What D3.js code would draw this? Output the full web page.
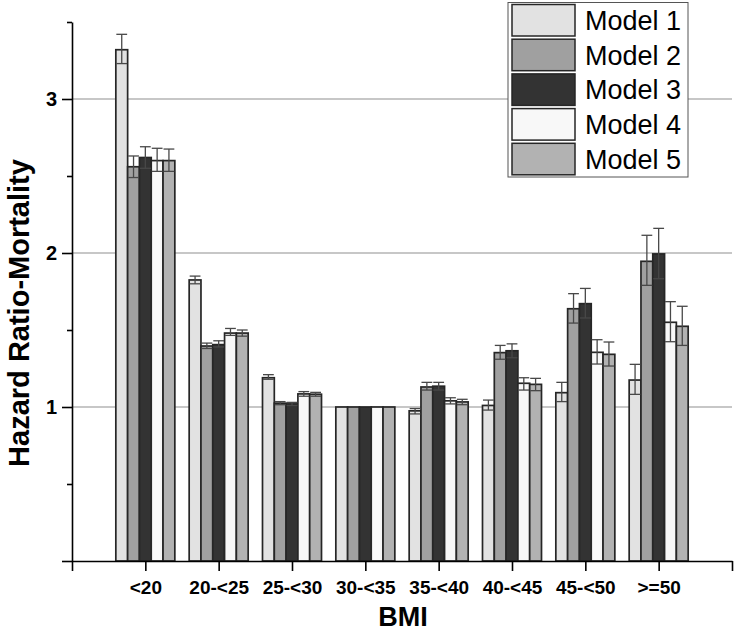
<!DOCTYPE html>
<html><head><meta charset="utf-8">
<script src="https://cdn.jsdelivr.net/npm/d3@7"></script>
<style>body{margin:0;background:#fff}svg{display:block}</style>
</head><body>
<script>
const categories = ["<20","20-<25","25-<30","30-<35","35-<40","40-<45","45-<50",">=50"];
const models = ["Model 1","Model 2","Model 3","Model 4","Model 5"];
const model1 = [3.32,1.825,1.19,1.0,0.975,1.01,1.093,1.175];
const model2 = [2.56,1.396,1.025,1.0,1.13,1.353,1.638,1.946];
const model3 = [2.62,1.405,1.02,1.0,1.135,1.365,1.671,1.994];
const model4 = [2.60,1.48,1.085,1.0,1.04,1.154,1.355,1.55];
const model5 = [2.60,1.48,1.083,1.0,1.033,1.147,1.342,1.524];
const upper1 = [3.42,1.85,1.21,1.0,0.99,1.045,1.16,1.277];
const upper2 = [2.63,1.415,1.035,1.0,1.16,1.40,1.736,2.115];
const upper3 = [2.69,1.43,1.03,1.0,1.16,1.41,1.77,2.16];
const upper4 = [2.68,1.51,1.10,1.0,1.06,1.19,1.437,1.684];
const upper5 = [2.675,1.50,1.095,1.0,1.05,1.186,1.422,1.654];
const lower1 = [3.23,1.80,1.18,1.0,0.955,0.98,1.035,1.082];
const lower2 = [2.49,1.38,1.015,1.0,1.11,1.31,1.545,1.79];
const lower3 = [2.55,1.39,1.01,1.0,1.11,1.32,1.578,1.833];
const lower4 = [2.53,1.465,1.07,1.0,1.02,1.11,1.279,1.424];
const lower5 = [2.53,1.46,1.07,1.0,1.015,1.106,1.266,1.40];
const yMajorTicks = [0,1,2,3];
const yMinorTicks = [0.5,1.5,2.5,3.5];
const colors = ["#e2e2e2","#a0a0a0","#333333","#f8f8f8","#b2b2b2"];

const values = [model1,model2,model3,model4,model5];
const uppers = [upper1,upper2,upper3,upper4,upper5];
const lowers = [lower1,lower2,lower3,lower4,lower5];

const W = 737, H = 639;
const svg = d3.select("body").append("svg").attr("width",W).attr("height",H)
  .style("font-family","'Liberation Sans', Arial, sans-serif");

const x = d3.scaleLinear().domain([0,9]).range([72,732]);
const y = d3.scaleLinear().domain([0,3.5]).range([561,22]);
const sub = d3.scaleBand().domain(models).range([-29.5,29.5]);

// gridlines
svg.append("g").selectAll("line").data([1,2,3]).join("line")
  .attr("x1",x(0)).attr("x2",x(9)).attr("y1",d=>y(d)).attr("y2",d=>y(d))
  .attr("stroke","#b4b4b4").attr("stroke-width",1.5);

// bars
const data = [];
categories.forEach((c,i)=>models.forEach((m,j)=>data.push({c,i,m,j,v:values[j][i],hi:uppers[j][i],lo:lowers[j][i]})));
const bw = sub.bandwidth();
svg.append("g").selectAll("rect").data(data).join("rect")
  .attr("x",d=>x(d.i+1)+sub(d.m)).attr("width",bw)
  .attr("y",d=>y(d.v)).attr("height",d=>y(0)-y(d.v))
  .attr("fill",d=>colors[d.j]).attr("stroke","#262626").attr("stroke-width",1.7);

// error bars
const eg = svg.append("g").attr("stroke","#484848").attr("stroke-width",1.3).attr("fill","none");
data.filter(d=>d.hi!==d.lo).forEach(d=>{
  const cx = x(d.i+1)+sub(d.m)+bw/2;
  const hw = bw/2-0.5;
  eg.append("line").attr("x1",cx).attr("x2",cx).attr("y1",y(d.hi)).attr("y2",y(d.lo));
  eg.append("line").attr("x1",cx-hw).attr("x2",cx+hw).attr("y1",y(d.hi)).attr("y2",y(d.hi));
  eg.append("line").attr("x1",cx-hw).attr("x2",cx+hw).attr("y1",y(d.lo)).attr("y2",y(d.lo));
});

// x axis
const xAxis = d3.axisBottom(x).tickValues(d3.range(0,10)).tickSize(10).tickSizeOuter(0).tickPadding(10)
  .tickFormat(d=> (d>=1&&d<=8)?categories[d-1]:"");
const gx = svg.append("g").attr("transform",`translate(0,${y(0)})`).call(xAxis);
gx.selectAll("text").attr("font-size",19).attr("font-weight","bold").attr("fill","#000");
gx.selectAll("line,path").attr("stroke","#000").attr("stroke-width",1.6);

// y axis
const yAxis = d3.axisLeft(y).tickValues(yMajorTicks).tickSize(10).tickSizeOuter(0).tickPadding(5)
  .tickFormat(d=> d===0?"":d3.format("d")(d));
const gy = svg.append("g").attr("transform",`translate(${x(0)},0)`).call(yAxis);
gy.selectAll("text").attr("font-size",20).attr("font-weight","bold").attr("fill","#000");
gy.selectAll("line,path").attr("stroke","#000").attr("stroke-width",1.6);
const gyMinor = svg.append("g").attr("transform",`translate(${x(0)},0)`)
  .call(d3.axisLeft(y).tickValues(yMinorTicks).tickSize(5).tickSizeOuter(0).tickFormat(""));
gyMinor.select(".domain").remove();
gyMinor.selectAll("line").attr("stroke","#000").attr("stroke-width",1.6);

// titles
svg.append("text").attr("x",403).attr("y",626).attr("text-anchor","middle")
  .attr("font-size",27).attr("font-weight","bold").text("BMI");
svg.append("text").attr("transform","translate(29,313) rotate(-90)").attr("text-anchor","middle")
  .attr("font-size",29).attr("font-weight","bold").text("Hazard Ratio-Mortality");

// legend
const lg = svg.append("g");
lg.append("rect").attr("x",508).attr("y",2.5).attr("width",180).attr("height",174.5)
  .attr("fill","#fff").attr("stroke","#555").attr("stroke-width",1);
models.forEach((m,j)=>{
  const ry = 4.5 + j*34.7;
  lg.append("rect").attr("x",512).attr("y",ry).attr("width",63).attr("height",31.5)
    .attr("fill",colors[j]).attr("stroke","#262626").attr("stroke-width",1.5);
  lg.append("text").attr("x",585).attr("y",ry+25.5).attr("font-size",27).attr("fill","#000").text(m);
});
</script>
</body></html>
